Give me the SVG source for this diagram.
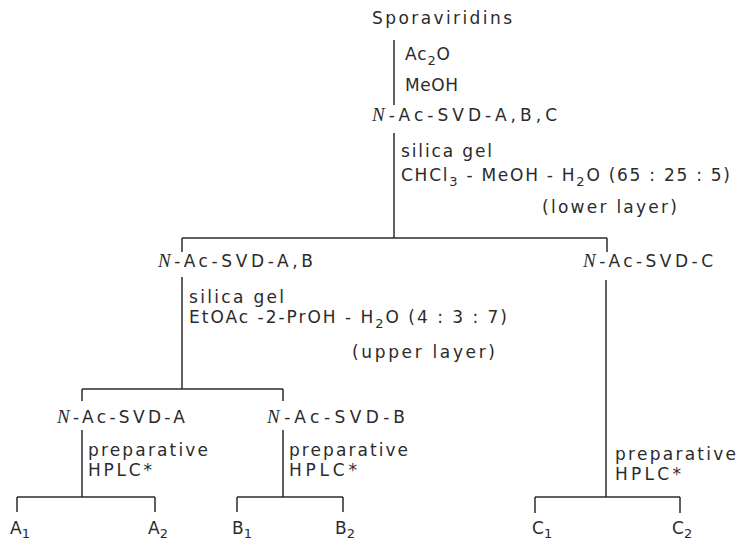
<svg xmlns="http://www.w3.org/2000/svg" width="736" height="541" viewBox="0 0 736 541">
<style>
.t{font-family:"DejaVu Sans","Liberation Sans",sans-serif;font-size:17px;fill:#2b2b2b}
.n{font-family:"Liberation Serif",serif;font-style:italic;font-size:19px}
.s{font-size:13px}
.c line{stroke:#2b2b2b;stroke-width:1.5}
</style>
<rect width="736" height="541" fill="#fff"/>
<g class="c" id="connectors">
<line x1="394" y1="40" x2="394" y2="105"/>
<line x1="394" y1="133" x2="394" y2="238"/>
<line x1="182" y1="238" x2="607" y2="238"/>
<line x1="182" y1="238" x2="182" y2="252"/>
<line x1="607" y1="238" x2="607" y2="252"/>
<line x1="182" y1="277" x2="182" y2="389"/>
<line x1="82" y1="389" x2="283" y2="389"/>
<line x1="82" y1="389" x2="82" y2="401"/>
<line x1="283" y1="389" x2="283" y2="401"/>
<line x1="82" y1="430" x2="82" y2="497"/>
<line x1="17" y1="497" x2="155" y2="497"/>
<line x1="17" y1="497" x2="17" y2="512"/>
<line x1="155" y1="497" x2="155" y2="512"/>
<line x1="283" y1="430" x2="283" y2="497"/>
<line x1="237" y1="497" x2="343" y2="497"/>
<line x1="237" y1="497" x2="237" y2="512"/>
<line x1="343" y1="497" x2="343" y2="512"/>
<line x1="606" y1="280" x2="606" y2="497"/>
<line x1="535" y1="497" x2="680" y2="497"/>
<line x1="535" y1="497" x2="535" y2="513"/>
<line x1="680" y1="497" x2="680" y2="513"/>
</g>
<g id="sporaviridins"><text class="t" x="372" y="24" textLength="140" lengthAdjust="spacing">Sporaviridins</text></g>
<g id="step1">
<text class="t" x="405" y="60" textLength="45" lengthAdjust="spacing">Ac<tspan class="s" dy="5">2</tspan><tspan dy="-5">O</tspan></text>
<text class="t" x="405" y="91" textLength="53" lengthAdjust="spacing">MeOH</text>
</g>
<g id="svd-abc"><text class="t" x="372" y="121" textLength="185" lengthAdjust="spacing"><tspan class="n">N</tspan>-Ac-SVD-A,B,C</text></g>
<g id="step2">
<text class="t" x="401" y="157" textLength="91" lengthAdjust="spacing">silica gel</text>
<text class="t" x="401" y="181" textLength="329" lengthAdjust="spacing">CHCl<tspan class="s" dy="5">3</tspan><tspan dy="-5"> - MeOH - H</tspan><tspan class="s" dy="5">2</tspan><tspan dy="-5">O  (65 : 25 : 5)</tspan></text>
<text class="t" x="542" y="213" textLength="135" lengthAdjust="spacing">(lower layer)</text>
</g>
<g id="svd-ab"><text class="t" x="158" y="267" textLength="155" lengthAdjust="spacing"><tspan class="n">N</tspan>-Ac-SVD-A,B</text></g>
<g id="svd-c"><text class="t" x="583" y="267" textLength="130" lengthAdjust="spacing"><tspan class="n">N</tspan>-Ac-SVD-C</text></g>
<g id="step3">
<text class="t" x="189" y="303" textLength="95" lengthAdjust="spacing">silica gel</text>
<text class="t" x="189" y="323" textLength="318" lengthAdjust="spacing">EtOAc -2-PrOH - H<tspan class="s" dy="5">2</tspan><tspan dy="-5">O  (4 : 3 : 7)</tspan></text>
<text class="t" x="352" y="358" textLength="143" lengthAdjust="spacing">(upper layer)</text>
</g>
<g id="svd-a"><text class="t" x="57" y="423" textLength="128" lengthAdjust="spacing"><tspan class="n">N</tspan>-Ac-SVD-A</text></g>
<g id="svd-b"><text class="t" x="267" y="423" textLength="138" lengthAdjust="spacing"><tspan class="n">N</tspan>-Ac-SVD-B</text></g>
<g id="hplc-a"><text class="t" x="88" y="456" textLength="120" lengthAdjust="spacing">preparative</text><text class="t" x="88" y="476" textLength="64" lengthAdjust="spacing">HPLC*</text></g>
<g id="hplc-b"><text class="t" x="289" y="456" textLength="119" lengthAdjust="spacing">preparative</text><text class="t" x="289" y="476" textLength="68" lengthAdjust="spacing">HPLC*</text></g>
<g id="hplc-c"><text class="t" x="615" y="460" textLength="121" lengthAdjust="spacing">preparative</text><text class="t" x="615" y="480" textLength="66" lengthAdjust="spacing">HPLC*</text></g>
<g id="a1"><text class="t" x="10" y="534">A<tspan class="s" dy="4">1</tspan></text></g>
<g id="a2"><text class="t" x="148" y="534">A<tspan class="s" dy="4">2</tspan></text></g>
<g id="b1"><text class="t" x="232" y="534">B<tspan class="s" dy="4">1</tspan></text></g>
<g id="b2"><text class="t" x="335" y="534">B<tspan class="s" dy="4">2</tspan></text></g>
<g id="c1"><text class="t" x="532" y="534">C<tspan class="s" dy="4">1</tspan></text></g>
<g id="c2"><text class="t" x="672" y="534">C<tspan class="s" dy="4">2</tspan></text></g>
</svg>
